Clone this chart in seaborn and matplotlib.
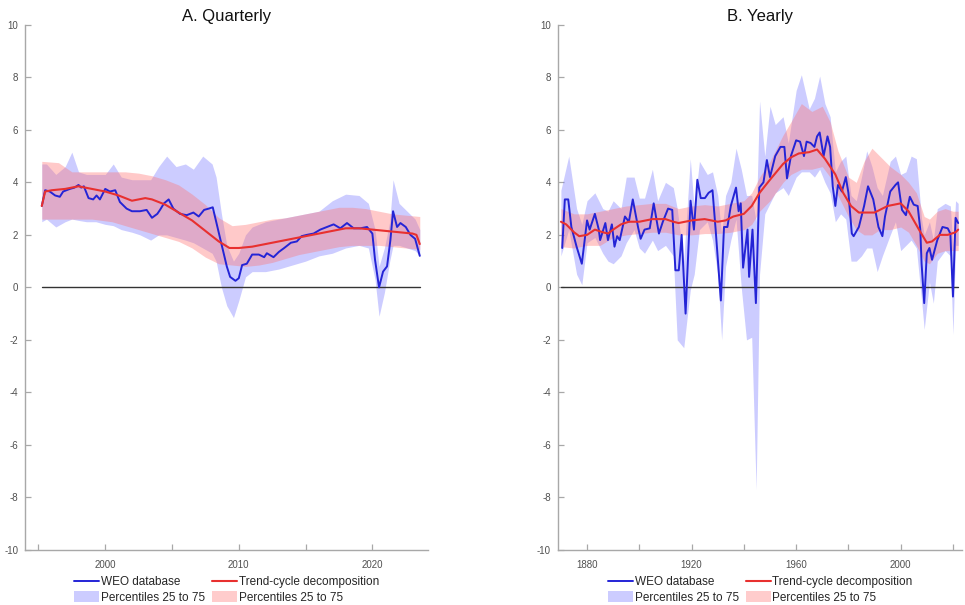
import numpy as np
import pandas as pd
import matplotlib
matplotlib.use("Agg")
import matplotlib.pyplot as plt
from matplotlib.patches import Patch
from matplotlib.lines import Line2D
import seaborn as sns

# ---------------- Quarterly panel data ----------------
q_weo_t = [1995.25, 1995.5, 1995.85, 1996.25, 1996.6, 1996.85, 1997.35, 1997.7, 1998.0, 1998.2,
           1998.4, 1998.75, 1999.1, 1999.35, 1999.6, 2000.0, 2000.35, 2000.75, 2001.1, 2001.6,
           2002.0, 2002.6, 2003.1, 2003.5, 2003.9, 2004.1, 2004.4, 2004.75, 2005.1, 2005.6,
           2006.1, 2006.6, 2007.0, 2007.4, 2007.75, 2008.05, 2008.4, 2008.75, 2009.1, 2009.35,
           2009.75, 2010.0, 2010.25, 2010.6, 2011.0, 2011.5, 2011.9, 2012.1, 2012.6, 2013.0,
           2013.4, 2013.9, 2014.35, 2014.7, 2015.1, 2015.6, 2016.1, 2016.6, 2017.1, 2017.6,
           2018.1, 2018.6, 2019.1, 2019.6, 2020.0, 2020.2, 2020.5, 2020.8, 2021.1, 2021.35,
           2021.55, 2021.85, 2022.1, 2022.5, 2022.85, 2023.2, 2023.55]
q_weo_v = [3.1, 3.7, 3.65, 3.5, 3.45, 3.65, 3.75, 3.8, 3.9, 3.8,
           3.85, 3.4, 3.35, 3.5, 3.35, 3.75, 3.65, 3.7, 3.25, 3.0,
           2.9, 2.9, 2.95, 2.65, 2.8, 2.95, 3.2, 3.35, 3.0, 2.8,
           2.75, 2.85, 2.7, 2.95, 3.0, 3.05, 2.3, 1.55, 0.8, 0.4,
           0.25, 0.35, 0.85, 0.9, 1.25, 1.25, 1.15, 1.3, 1.15, 1.35,
           1.5, 1.7, 1.75, 1.95, 2.0, 2.05, 2.2, 2.3, 2.4, 2.25,
           2.45, 2.25, 2.25, 2.3, 2.05, 1.05, 0.0, 0.6, 0.8, 1.8,
           2.9, 2.3, 2.45, 2.3, 2.0, 1.85, 1.2]

q_trend_t = [1995.25, 1995.5, 1996.0, 1997.0, 1998.0, 1999.0, 2000.0, 2001.0, 2002.0, 2003.0,
             2003.5, 2004.5, 2005.5, 2006.5, 2007.5, 2008.5, 2009.3, 2010.0, 2011.0, 2012.0,
             2013.0, 2014.0, 2015.0, 2016.0, 2017.0, 2018.0, 2019.0, 2020.0, 2021.0, 2022.0,
             2023.0, 2023.3, 2023.55]
q_trend_v = [3.1, 3.65, 3.7, 3.75, 3.85, 3.75, 3.65, 3.5, 3.3, 3.4,
             3.35, 3.15, 2.85, 2.55, 2.15, 1.75, 1.5, 1.5, 1.55, 1.65,
             1.75, 1.85, 1.95, 2.05, 2.15, 2.25, 2.25, 2.2, 2.15, 2.1,
             2.05, 2.0, 1.65]

q_weo_band_t = [1995.25, 1995.6, 1996.3, 1997.0, 1997.5, 1998.0, 1998.6, 1999.3, 2000.0, 2000.6,
                2001.2, 2002.0, 2002.6, 2003.4, 2004.0, 2004.6, 2005.3, 2006.0, 2006.6, 2007.3,
                2008.0, 2008.3, 2008.7, 2009.1, 2009.6, 2010.0, 2010.5, 2011.0, 2012.0, 2013.0,
                2014.0, 2015.0, 2016.0, 2017.0, 2018.0, 2019.0, 2019.7, 2020.2, 2020.5, 2020.9,
                2021.3, 2021.55, 2022.0, 2022.6, 2023.2, 2023.55]
q_weo_lo = [2.5, 2.6, 2.3, 2.5, 2.6, 2.55, 2.5, 2.5, 2.4, 2.35,
            2.2, 2.1, 2.0, 1.8, 2.0, 2.0, 1.9, 1.8, 1.7, 1.5,
            1.3, 1.0, 0.0, -0.7, -1.15, -0.5, 0.4, 0.6, 0.6, 0.7,
            0.85, 1.0, 1.2, 1.3, 1.5, 1.6, 1.5, 0.3, -1.1, -0.2,
            1.0, 1.6, 1.6, 1.5, 1.4, 1.2]
q_weo_hi = [4.7, 4.7, 4.3, 4.6, 5.15, 4.4, 4.3, 4.3, 4.3, 4.7,
            4.2, 4.1, 4.1, 4.1, 4.6, 5.0, 4.6, 4.7, 4.5, 5.0,
            4.7, 4.2, 2.8, 1.6, 1.0, 1.3, 2.0, 2.3, 2.5, 2.6,
            2.7, 2.8, 2.9, 3.3, 3.55, 3.5, 3.2, 2.2, 0.8, 1.5,
            2.5, 4.1, 3.2, 2.9, 2.6, 2.2]

q_trend_band_t = [1995.25, 1996.5, 1997.5, 1999.0, 2000.5, 2001.5, 2002.5, 2003.5, 2004.5, 2005.5,
                  2006.5, 2007.5, 2008.5, 2009.5, 2010.5, 2011.5, 2012.5, 2013.5, 2014.5, 2015.5,
                  2016.5, 2017.5, 2018.5, 2019.5, 2020.5, 2021.5, 2022.5, 2023.55]
q_trend_lo = [2.6, 2.6, 2.6, 2.6, 2.5, 2.35, 2.2, 2.05, 1.9, 1.75,
              1.5, 1.15, 0.9, 0.85, 0.8, 0.85, 0.95, 1.1, 1.25, 1.35,
              1.45, 1.55, 1.6, 1.6, 1.6, 1.55, 1.5, 1.45]
q_trend_hi = [4.8, 4.75, 4.4, 4.4, 4.4, 4.4, 4.35, 4.25, 4.1, 3.9,
              3.55, 3.15, 2.65, 2.35, 2.4, 2.5, 2.6, 2.65, 2.75, 2.85,
              2.95, 3.05, 3.05, 3.0, 2.9, 2.8, 2.75, 2.7]

# ---------------- Yearly panel data ----------------
y_weo_t = [1870.5, 1871.5, 1872.8, 1874, 1876, 1878, 1880, 1881, 1883, 1884.5,
           1885, 1887, 1888, 1889.5, 1890.5, 1891.5, 1892.5, 1894.5, 1896, 1897.5,
           1899.5, 1900.5, 1902, 1904, 1905.5, 1907.5, 1909, 1911, 1912.6, 1913.8,
           1915.1, 1916.2, 1917.7, 1919.6, 1920.9, 1922.2, 1923.5, 1925.1, 1926.5, 1928,
           1929.2, 1931.2, 1932.4, 1933.7, 1935, 1937, 1938, 1938.8, 1939.7, 1941.4,
           1942, 1943.3, 1944.6, 1945.9, 1947.5, 1948.8, 1950, 1952, 1954, 1955.5,
           1956.5, 1958, 1960, 1961.5, 1963, 1964, 1965.5, 1967, 1968, 1969,
           1970.5, 1972, 1973, 1974, 1975, 1976, 1977.5, 1979, 1980, 1981.3,
           1982, 1984, 1986, 1987.5, 1989.5, 1991.5, 1993, 1994, 1996, 1998,
           1999, 2000.5, 2002, 2003.5, 2005, 2006.5, 2007.5, 2008, 2009, 2010,
           2011, 2012, 2014, 2016, 2018, 2019, 2020, 2021, 2022]
y_weo_v = [1.5, 3.35, 3.35, 2.3, 1.55, 0.9, 2.55, 2.2, 2.8, 2.2,
           1.8, 2.45, 1.8, 2.4, 1.55, 1.95, 1.8, 2.7, 2.5, 3.35,
           2.3, 1.85, 2.2, 2.25, 3.2, 2.05, 2.5, 3.0, 2.95, 0.65,
           0.65, 2.0, -1.0, 3.3, 2.2, 4.1, 3.4, 3.4, 3.6, 3.7,
           2.2, -0.5, 2.3, 2.3, 3.1, 3.8, 2.9, 3.2, 0.75, 2.2,
           0.4, 2.2, -0.6, 3.8, 4.0, 4.85, 4.2, 5.0, 5.35, 5.35,
           4.15, 5.0, 5.6, 5.55, 5.0, 5.55, 5.5, 5.35, 5.75, 5.9,
           5.0, 5.75, 5.35, 3.85, 3.1, 3.9, 3.65, 4.2, 3.6, 2.05,
           1.95, 2.3, 3.1, 3.85, 3.35, 2.3, 1.95, 2.7, 3.65, 3.9,
           4.0, 2.95, 2.75, 3.45, 3.15, 3.1, 2.2, 0.9, -0.6, 1.3,
           1.5, 1.05, 1.8, 2.3, 2.25, 2.05, -0.35, 2.65, 2.45]

y_trend_t = [1870, 1872, 1875, 1877, 1880, 1883, 1886, 1888, 1890, 1893,
             1896, 1900, 1905, 1910, 1913, 1915, 1920, 1925, 1930, 1933,
             1936, 1940, 1943, 1946, 1950, 1955, 1958, 1961, 1965, 1968,
             1971, 1975, 1978, 1981, 1984, 1990, 1995, 2000, 2003, 2007,
             2010, 2012, 2015, 2018, 2021, 2022]
y_trend_v = [2.5, 2.4, 2.1, 1.95, 2.0, 2.2, 2.1, 2.05, 2.2, 2.4,
             2.5, 2.5, 2.6, 2.6, 2.5, 2.45, 2.55, 2.6, 2.5, 2.55,
             2.7, 2.8, 3.1, 3.6, 4.1, 4.7, 4.95, 5.1, 5.15, 5.25,
             4.9, 4.3, 3.6, 3.1, 2.85, 2.85, 3.1, 3.2, 2.9, 2.2,
             1.7, 1.75, 2.0, 2.0, 2.1, 2.2]

y_weo_band_t = [1870, 1873, 1876, 1878, 1880, 1883, 1886, 1888, 1890, 1893,
                1895, 1898, 1900, 1902, 1905, 1907, 1910, 1913, 1914.5, 1917,
                1919.5, 1921, 1923, 1926, 1928, 1930, 1931.5, 1933, 1935, 1937,
                1939, 1941, 1943, 1944.7, 1946, 1948, 1950, 1952, 1955, 1957,
                1960, 1962, 1965, 1967, 1969, 1971, 1973, 1975, 1977, 1979,
                1981, 1983, 1985, 1987, 1989, 1991, 1993, 1996, 1998, 2000,
                2002, 2004, 2006, 2008, 2009, 2011, 2012.5, 2014, 2017, 2019,
                2020, 2021, 2022]
y_weo_lo = [1.2, 2.2, 0.5, 0.1, 1.7, 1.9, 1.3, 1.0, 0.9, 1.2,
            1.7, 2.2, 1.5, 1.3, 1.8, 1.4, 1.6, 1.2, -2.0, -2.3,
            -0.1, 0.5, 2.2, 2.5, 1.8, 0.5, -2.0, 0.8, 1.8, 2.6,
            0.0, -2.0, -1.9, -7.7, 0.5, 2.8, 3.2, 3.6, 3.8, 3.5,
            4.2, 4.4, 4.4, 4.2, 4.5, 4.0, 3.6, 2.5, 2.8, 2.6,
            1.0, 1.0, 1.2, 1.5, 1.5, 0.6, 1.2, 2.0, 2.5, 1.4,
            1.6, 1.8, 1.5, -0.5, -1.6, 0.2, -0.6, 1.0, 1.4, 1.2,
            -1.8, 1.6, 1.6]
y_weo_hi = [3.7, 5.0, 3.0, 2.4, 3.3, 3.6, 3.0, 2.9, 3.3, 3.0,
            4.2, 4.2, 3.4, 3.4, 4.5, 3.3, 4.0, 3.8, 3.0, 1.0,
            4.9, 3.0, 4.8, 4.3, 4.4, 3.5, 2.0, 3.5, 4.0, 5.3,
            4.5, 3.5, 3.5, 2.5, 7.1, 5.0, 6.9, 6.2, 6.5, 5.5,
            7.5, 8.1, 6.8, 7.2, 8.05, 7.0, 6.5, 4.4, 4.8, 5.0,
            3.5, 3.3, 4.2, 5.2, 4.6, 3.8, 3.5, 4.8, 5.0, 4.3,
            4.4, 5.0, 4.9, 2.6, 2.0, 2.5, 1.8, 3.0, 3.2, 3.1,
            1.5, 3.3, 3.2]

y_trend_band_t = [1870, 1875, 1880, 1885, 1890, 1895, 1900, 1905, 1910, 1915,
                  1920, 1925, 1930, 1935, 1940, 1943, 1946, 1950, 1955, 1958,
                  1962, 1966, 1970, 1973, 1976, 1980, 1983, 1986, 1989, 1992,
                  1996, 2000, 2003, 2006, 2009, 2011, 2014, 2017, 2020, 2022]
y_trend_lo = [1.55, 1.5, 1.6, 1.6, 1.9, 2.0, 2.05, 2.1, 2.1, 2.0,
              2.0, 2.05, 2.05, 2.1, 2.2, 2.4, 2.9, 3.3, 4.0, 4.3,
              4.5, 4.5, 4.6, 4.2, 3.5, 2.7, 2.2, 2.0, 2.0, 2.2,
              2.2, 2.3, 2.1, 1.6, 1.0, 0.9, 1.3, 1.4, 1.4, 1.4]
y_trend_hi = [3.0, 2.8, 2.8, 2.9, 3.0, 3.1, 3.15, 3.2, 3.2, 3.0,
              3.1, 3.15, 3.1, 3.2, 3.3, 3.6, 4.2, 4.8, 5.8, 6.3,
              7.0, 6.7, 6.9, 6.3, 5.2, 4.2, 4.0, 4.8, 5.3, 5.0,
              4.6, 4.3, 4.0, 3.6, 2.7, 2.6, 2.9, 3.0, 2.9, 2.9]

labels = ["WEO database", "Trend-cycle decomposition",
          "Percentiles 25 to 75", "Percentiles 25 to 75"]
titles = ["A. Quarterly", "B. Yearly"]

# ---------------- Styling ----------------
sns.set_theme(style="white")
plt.rcParams["font.family"] = ["Liberation Sans", "DejaVu Sans"]

BLUE = "#2424d6"
RED = "#e8302f"
BLUE_FILL = (0.38, 0.38, 1.0)
RED_FILL = (1.0, 0.45, 0.45)
AXIS_GREY = "#a8a8a8"
TEXT_GREY = "#505050"

fig = plt.figure(figsize=(9.65, 6.05), dpi=100)
ax_q = fig.add_axes([0.026, 0.091, 0.418, 0.868])
ax_y = fig.add_axes([0.578, 0.091, 0.419, 0.868])


def draw_panel(ax, weo_t, weo_v, tr_t, tr_v, wb_t, wb_lo, wb_hi, tb_t, tb_lo, tb_hi,
               xlim, major, labelled, title):
    ax.fill_between(wb_t, wb_lo, wb_hi, color=BLUE_FILL, alpha=0.32, lw=0)
    ax.fill_between(tb_t, tb_lo, tb_hi, color=RED_FILL, alpha=0.38, lw=0)
    t0, t1 = min(weo_t[0], tr_t[0]), max(weo_t[-1], tr_t[-1])
    ax.plot([t0, t1], [0, 0], color="#333333", lw=1.0, zorder=1)
    sns.lineplot(x=weo_t, y=weo_v, ax=ax, color=BLUE, lw=1.4, sort=False, zorder=3)
    sns.lineplot(x=tr_t, y=tr_v, ax=ax, color=RED, lw=1.5, sort=False, zorder=4)

    ax.set_xlim(*xlim)
    ax.set_ylim(-10, 10)
    ax.set_yticks(np.arange(-10, 11, 2))
    ax.set_yticklabels([str(v) for v in range(-10, 11, 2)])
    ax.set_xticks(major)
    ax.set_xticklabels([str(m) if m in labelled else "" for m in major])
    ax.tick_params(direction="in", length=4, width=0.9, color=AXIS_GREY,
                   labelsize=7, labelcolor=TEXT_GREY, bottom=True, left=True)
    ax.tick_params(axis="y", pad=5)
    ax.tick_params(axis="x", pad=7)
    for side in ("top", "right"):
        ax.spines[side].set_visible(False)
    for side in ("left", "bottom"):
        ax.spines[side].set_color(AXIS_GREY)
        ax.spines[side].set_linewidth(1.0)
    ax.set_xlabel("")
    ax.set_ylabel("")
    ax.set_title(title, fontsize=12, color="#111111", pad=3)


draw_panel(ax_q, q_weo_t, q_weo_v, q_trend_t, q_trend_v,
           q_weo_band_t, q_weo_lo, q_weo_hi, q_trend_band_t, q_trend_lo, q_trend_hi,
           (1994.0, 2024.2), [1995, 2000, 2005, 2010, 2015, 2020], [2000, 2010, 2020],
           titles[0])
draw_panel(ax_y, y_weo_t, y_weo_v, y_trend_t, y_trend_v,
           y_weo_band_t, y_weo_lo, y_weo_hi, y_trend_band_t, y_trend_lo, y_trend_hi,
           (1868.8, 2023.5), [1880, 1900, 1920, 1940, 1960, 1980, 2000, 2020],
           [1880, 1920, 1960, 2000], titles[1])

# Legends under each panel
for ax, cx in ((ax_q, 0.235), (ax_y, 0.788)):
    handles = [
        Line2D([], [], color=BLUE, lw=1.4),
        Patch(facecolor=(0.8, 0.8, 1.0), edgecolor="none"),
        Line2D([], [], color=RED, lw=1.5),
        Patch(facecolor=(1.0, 0.8, 0.8), edgecolor="none"),
    ]
    leg_labels = [labels[0], labels[2], labels[1], labels[3]]
    fig.legend(handles, leg_labels, loc="center", bbox_to_anchor=(cx, 0.025),
               ncol=2, frameon=False, fontsize=8.5, handlelength=2.1,
               handleheight=1.0, handletextpad=0.15, labelspacing=0.25,
               columnspacing=0.6, borderpad=0.1)

fig.savefig("out.png", dpi=100)
